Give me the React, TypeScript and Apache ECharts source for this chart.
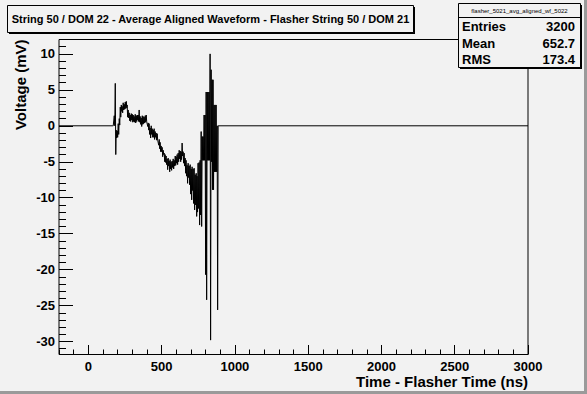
import React, { useEffect, useRef } from "react";
import * as echarts from "echarts";

// Histogram bin envelopes (ns, mV): upper and lower value per screen column
const timeNs = [
  -200, 163, 170, 177, 184, 190, 197, 204, 211, 218, 225, 231, 238, 245, 252, 259, 265, 272, 279, 286,
  293, 300, 306, 313, 320, 327, 334, 340, 347, 354, 361, 368, 374, 381, 388, 395, 402, 409, 415, 422,
  429, 436, 443, 449, 456, 463, 470, 477, 484, 490, 497, 504, 511, 518, 524, 531, 538, 545, 552, 558,
  565, 572, 579, 586, 593, 599, 606, 613, 620, 627, 633, 640, 647, 654, 661, 667, 674, 681, 688, 695,
  702, 708, 715, 722, 729, 736, 742, 749, 756, 763, 770, 777, 783, 790, 797, 804, 811, 817, 824, 831,
  838, 845, 851, 858, 865, 872, 879, 886, 3000,
];
const upperMv = [
  0, 0, 0, 1.4, 5.9, -0.6, -0.7, 0.3, 1.0, 2.6, 2.9, 2.7, 3.2, 3.0, 3.3, 3.4, 2.9, 2.2, 1.8, 1.5,
  1.7, 1.6, 1.5, 1.3, 1.6, 1.4, 1.5, 1.5, 2.2, 1.3, 1.1, 1.4, 1.3, 1.2, 1.4, 1.5, 0.6, 0.4, 0.3, -0.3,
  0.0, -0.4, -0.6, -0.4, -0.8, -1.0, -1.1, -2.0, -1.9, -2.3, -2.8, -3.0, -3.4, -3.8, -4.0, -4.2, -4.6, -4.5, -4.9, -4.7,
  -5.0, -4.9, -4.6, -4.8, -4.2, -4.3, -4.0, -3.8, -3.4, -3.5, -3.6, -2.4, -3.6, -3.8, -4.5, -4.8, -5.5, -5.2, -5.6, -5.4,
  -6.0, -5.7, -6.0, -5.9, -6.8, -6.6, -7.0, -5.2, -5.1, -4.8, -0.8, -1.5, -1.5, 1.5, 1.5, 4.7, 4.7, 4.7, 4.7, 10.0,
  7.8, 6.4, 6.4, 2.9, 2.9, 2.9, 0.0, 0, 0,
];
const lowerMv = [
  0, 0, 0, 0, -4.0, -1.7, -1.6, -1.2, 0.1, 1.2, 2.0, 1.8, 2.2, 2.3, 2.4, 2.5, 1.2, 1.1, 0.7, 0.6,
  0.8, 0.5, 0.6, 0.5, 0.4, 0.6, 0.8, 0.6, 0.5, 0.2, -0.1, 0.2, 0.3, 0.4, 0.5, 0.6, -0.1, -0.6, -1.2, -1.7,
  -1.2, -1.6, -1.6, -1.9, -1.6, -2.0, -2.0, -2.7, -3.2, -3.6, -3.6, -4.3, -4.0, -5.0, -5.1, -5.4, -6.1, -5.6, -6.4, -6.0,
  -6.2, -5.8, -6.0, -5.6, -5.5, -5.2, -5.4, -5.0, -4.6, -5.0, -4.7, -4.2, -5.2, -5.6, -6.6, -7.0, -8.0, -7.2, -8.2, -9.5,
  -10.3, -9.0, -10.8, -11.7, -11.0, -12.6, -12.0, -11.5, -13.8, -12.4, -14.0, -4.8, -4.8, -4.8, -20.7, -24.2, -4.8, -4.8, -4.8, -29.8,
  -5.0, -8.9, -8.9, -6.4, -6.4, -6.4, -25.6, 0, 0,
];

const xMajorTicks = [0, 500, 1000, 1500, 2000, 2500, 3000];
const yMajorTicks = [-30, -25, -20, -15, -10, -5, 0, 5, 10];

const titleText = "String 50 / DOM 22 - Average Aligned Waveform - Flasher String 50 / DOM 21";
const statsName = "flasher_5021_avg_aligned_wf_5022";
const statsLabels = ["Entries", "Mean", "RMS"];
const statsValues = ["3200", "652.7", "173.4"];
const xTitle = "Time - Flasher Time (ns)";
const yTitle = "Voltage (mV)";

const X_MIN = -200;
const X_MAX = 3000;
const Y_MIN = -31.8;
const Y_MAX = 12.0;

const BG = "#f2f2f2";
const FONT = '"Liberation Sans", Arial, Helvetica, sans-serif';
const HALF_COL_NS = 3.4;

export default function App() {
  const ref = useRef<HTMLDivElement>(null);

  useEffect(() => {
    if (!ref.current) return;
    const chart = echarts.init(ref.current, undefined, { renderer: "svg" });

    const data: [number, number][] = [];
    timeNs.forEach((t, i) => {
      data.push([t, upperMv[i]]);
      if (lowerMv[i] !== upperMv[i]) data.push([t + HALF_COL_NS, lowerMv[i]]);
    });

    const xMinor: number[] = [];
    for (let v = X_MIN; v <= X_MAX; v += 100) if (v % 500 !== 0) xMinor.push(v);
    const yMinor: number[] = [];
    for (let v = -31; v <= 12; v += 1) if (v % 5 !== 0) yMinor.push(v);

    const labelStyle = {
      color: "#000",
      fontFamily: FONT,
      fontWeight: "bold" as const,
      fontSize: 13,
      formatter: (v: number) => String(v),
    };

    const z = 100;
    const graphic: any[] = [
      // canvas bevel
      { type: "rect", z, shape: { x: 0, y: 391, width: 587, height: 3 }, style: { fill: "#9a9a9a" } },
      { type: "rect", z, shape: { x: 584, y: 0, width: 3, height: 394 }, style: { fill: "#9a9a9a" } },
      // title box
      { type: "rect", z, shape: { x: 9, y: 7, width: 406, height: 27 }, style: { fill: "#000" } },
      { type: "rect", z, shape: { x: 7.5, y: 5.5, width: 406, height: 27 }, style: { fill: BG, stroke: "#000", lineWidth: 1 } },
      {
        type: "text", z, x: 210.5, y: 19,
        style: { text: titleText, fill: "#000", font: `bold 11px ${FONT}`, textAlign: "center", textVerticalAlign: "middle" },
      },
      // stats box
      { type: "rect", z, shape: { x: 460, y: 5, width: 122, height: 64 }, style: { fill: "#000" } },
      { type: "rect", z, shape: { x: 458.5, y: 3.5, width: 122, height: 64 }, style: { fill: BG, stroke: "#000", lineWidth: 1 } },
      { type: "line", z, shape: { x1: 458.5, y1: 17.5, x2: 580.5, y2: 17.5 }, style: { stroke: "#000", lineWidth: 1 } },
      {
        type: "text", z, x: 519.5, y: 10.5,
        style: { text: statsName, fill: "#000", font: `6px ${FONT}`, textAlign: "center", textVerticalAlign: "middle" },
      },
      ...statsLabels.map((lab, i) => ({
        type: "text", z, x: 462, y: 26.5 + i * 16.6,
        style: { text: lab, fill: "#000", font: `bold 13px ${FONT}`, textAlign: "left", textVerticalAlign: "middle" },
      })),
      ...statsValues.map((val, i) => ({
        type: "text", z, x: 575, y: 26.5 + i * 16.6,
        style: { text: val, fill: "#000", font: `bold 13px ${FONT}`, textAlign: "right", textVerticalAlign: "middle" },
      })),
      // axis titles
      {
        type: "text", z, x: 528, y: 381.5,
        style: { text: xTitle, fill: "#000", font: `bold 15px ${FONT}`, textAlign: "right", textVerticalAlign: "middle" },
      },
      {
        type: "text", z, x: 20, y: 39.5, rotation: Math.PI / 2,
        style: { text: yTitle, fill: "#000", font: `bold 15px ${FONT}`, textAlign: "right", textVerticalAlign: "middle" },
      },
    ];

    const axisLine = { show: false, onZero: false };

    chart.setOption({
      animation: false,
      backgroundColor: BG,
      grid: {
        left: 59,
        right: 59,
        top: 39.5,
        bottom: 39.5,
        show: true,
        borderColor: "#000",
        borderWidth: 1,
        backgroundColor: "transparent",
      },
      xAxis: [
        {
          type: "value",
          min: X_MIN,
          max: X_MAX,
          position: "bottom",
          axisLine,
          splitLine: { show: false },
          axisTick: { show: true, inside: true, length: 9.5, customValues: xMajorTicks, lineStyle: { color: "#000", width: 1 } },
          axisLabel: { ...labelStyle, customValues: xMajorTicks, margin: 5 },
        },
        {
          type: "value",
          min: X_MIN,
          max: X_MAX,
          position: "bottom",
          axisLine,
          splitLine: { show: false },
          axisTick: { show: true, inside: true, length: 5, customValues: xMinor, lineStyle: { color: "#000", width: 1 } },
          axisLabel: { show: false },
        },
      ],
      yAxis: [
        {
          type: "value",
          min: Y_MIN,
          max: Y_MAX,
          position: "left",
          axisLine,
          splitLine: { show: false },
          axisTick: { show: true, inside: true, length: 14, customValues: yMajorTicks, lineStyle: { color: "#000", width: 1 } },
          axisLabel: { ...labelStyle, customValues: yMajorTicks, margin: 4 },
        },
        {
          type: "value",
          min: Y_MIN,
          max: Y_MAX,
          position: "left",
          axisLine,
          splitLine: { show: false },
          axisTick: { show: true, inside: true, length: 7, customValues: yMinor, lineStyle: { color: "#000", width: 1 } },
          axisLabel: { show: false },
        },
      ],
      series: [
        {
          type: "line",
          xAxisIndex: 0,
          yAxisIndex: 0,
          data,
          showSymbol: false,
          symbol: "none",
          silent: true,
          clip: true,
          lineStyle: { color: "#000", width: 1 },
          z: 5,
        },
      ],
      graphic,
    });

    return () => chart.dispose();
  }, []);

  return (
    <div
      ref={ref}
      style={{ position: "fixed", left: 0, top: 0, width: 587, height: 394 }}
    />
  );
}
